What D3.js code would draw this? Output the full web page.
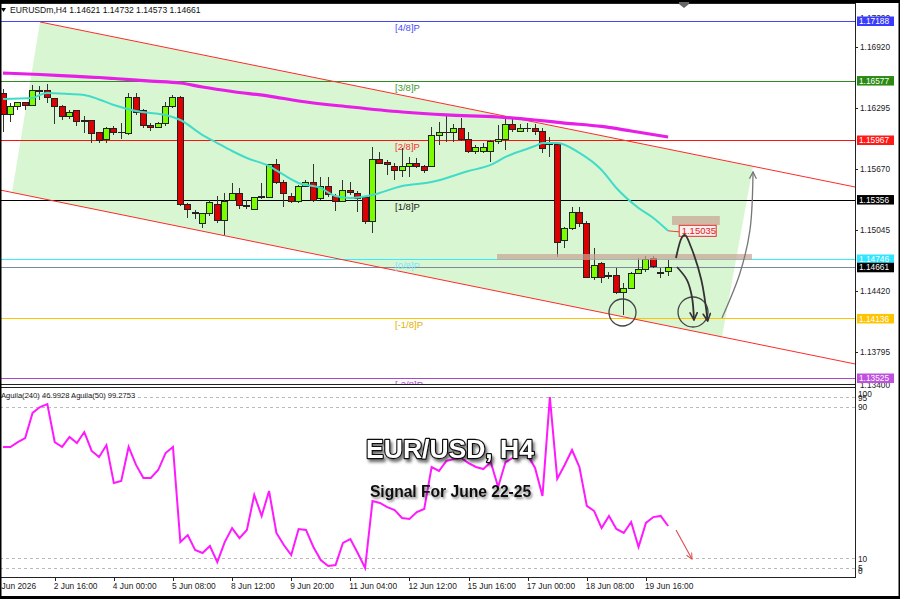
<!DOCTYPE html>
<html><head><meta charset="utf-8">
<script src="https://cdn.jsdelivr.net/npm/d3@7"></script>
<style>
html,body{margin:0;padding:0;background:#fff;}
svg{display:block;font-family:"Liberation Sans",Arial,sans-serif;}
</style></head><body>
<svg id="c" width="900" height="599"></svg>
<script>
// ---------------- DATA ----------------
const opens = [1.16449,1.16224,1.16306,1.16347,1.16326,1.16465,1.16480,1.16388,1.16306,1.16203,
1.16265,1.16152,1.16162,1.16039,1.15977,1.16080,1.16049,1.16029,1.16398,1.16265,
1.16111,1.16100,1.16141,1.16306,1.16398,1.15310,1.15228,1.15115,1.15208,1.15310,
1.15146,1.15351,1.15423,1.15300,1.15259,1.15377,1.15382,1.15711,1.15536,1.15392,
1.15331,1.15495,1.15526,1.15362,1.15485,1.15392,1.15341,1.15444,1.15423,1.15372,
1.15126,1.15772,1.15741,1.15700,1.15649,1.15700,1.15721,1.15700,1.15700,1.16018,
1.16039,1.16049,1.16080,1.15977,1.15844,1.15844,1.15844,1.15947,1.15977,1.16131,
1.16059,1.16090,1.16090,1.16059,1.15916,1.15916,1.14931,1.15054,1.15218,1.15115,
1.14561,1.14695,1.14572,1.14572,1.14407,1.14448,1.14602,1.14643,1.14756,1.14608,1.14621];
const highs = [1.16490,1.16347,1.16357,1.16357,1.16531,1.16521,1.16542,1.16398,1.16326,1.16275,
1.16275,1.16213,1.16172,1.16049,1.16100,1.16111,1.16141,1.16449,1.16449,1.16285,
1.16141,1.16152,1.16357,1.16429,1.16418,1.15321,1.15249,1.15218,1.15351,1.15392,
1.15423,1.15526,1.15475,1.15351,1.15382,1.15526,1.15721,1.15772,1.15557,1.15423,
1.15505,1.15557,1.15721,1.15587,1.15587,1.15413,1.15557,1.15536,1.15444,1.15392,
1.15895,1.15844,1.15762,1.15731,1.15885,1.15793,1.15782,1.15711,1.16100,1.16152,
1.16213,1.16131,1.16193,1.16049,1.15916,1.15936,1.15967,1.16121,1.16193,1.16193,
1.16131,1.16141,1.16131,1.16090,1.15998,1.15947,1.15074,1.15280,1.15280,1.15136,
1.14859,1.14715,1.14613,1.14654,1.14500,1.14613,1.14756,1.14777,1.14777,1.14654,1.14732];
const lows = [1.16049,1.16152,1.16275,1.16275,1.16316,1.16377,1.16347,1.16131,1.16172,1.16182,
1.16111,1.16039,1.15936,1.15936,1.15936,1.16018,1.15977,1.16018,1.16224,1.16090,
1.16059,1.16090,1.16111,1.16295,1.15290,1.15167,1.15156,1.15064,1.15187,1.15115,
1.14992,1.15341,1.15259,1.15259,1.15249,1.15362,1.15372,1.15516,1.15280,1.15321,
1.15321,1.15485,1.15331,1.15351,1.15382,1.15238,1.15331,1.15403,1.15228,1.15105,
1.15013,1.15721,1.15608,1.15557,1.15587,1.15587,1.15680,1.15628,1.15690,1.15916,
1.15947,1.15947,1.15957,1.15834,1.15823,1.15834,1.15741,1.15926,1.15864,1.16049,
1.16049,1.16049,1.16018,1.15834,1.15793,1.14767,1.14859,1.15044,1.15074,1.14551,
1.14531,1.14500,1.14541,1.14387,1.14171,1.14438,1.14592,1.14613,1.14654,1.14551,1.14573];
const closes = [1.16224,1.16306,1.16347,1.16326,1.16470,1.16470,1.16398,1.16306,1.16203,1.16254,
1.16152,1.16162,1.16029,1.15957,1.16080,1.16049,1.16039,1.16398,1.16254,1.16111,
1.16100,1.16141,1.16306,1.16398,1.15310,1.15249,1.15208,1.15208,1.15321,1.15146,
1.15341,1.15423,1.15290,1.15280,1.15372,1.15387,1.15711,1.15536,1.15413,1.15331,
1.15495,1.15526,1.15351,1.15485,1.15403,1.15331,1.15444,1.15433,1.15362,1.15126,
1.15772,1.15731,1.15711,1.15649,1.15690,1.15721,1.15690,1.15659,1.16018,1.16039,
1.16049,1.16080,1.15977,1.15844,1.15885,1.15885,1.15947,1.15977,1.16131,1.16070,
1.16090,1.16085,1.16059,1.15875,1.15926,1.14920,1.15064,1.15218,1.15115,1.14561,
1.14684,1.14561,1.14567,1.14407,1.14448,1.14602,1.14643,1.14746,1.14674,1.14602,1.14661];

// moving averages read at bar indexes: [barIndex, price]
const maSlow = [[0,1.16654],[5,1.16639],[10,1.16619],[13,1.16608],[15,1.16598],[20,1.16572],[24,1.16552],
[27,1.16511],[31,1.16465],[36,1.16418],[40,1.16367],[47,1.16306],[54,1.16254],[60,1.16224],[67,1.16203],
[72,1.16172],[76,1.16141],[81,1.16106],[85,1.16059],[90,1.15998]];
const maFast = [[0,1.16388],[4,1.16398],[5,1.16429],[6,1.16449],[9,1.16439],[11,1.16429],[13,1.16383],
[15,1.16326],[18,1.16265],[20,1.16244],[22,1.16224],[24,1.16172],[27,1.16018],[29,1.15936],[31,1.15854],
[33,1.15782],[36,1.15700],[38,1.15608],[40,1.15526],[43,1.15474],[45,1.15392],[47,1.15372],[50,1.15403],
[54,1.15495],[58,1.15536],[63,1.15649],[66,1.15711],[68,1.15793],[72,1.15905],[73,1.15936],[75,1.15936],
[78,1.15834],[81,1.15659],[83,1.15474],[86,1.15269],[88,1.15167],[90,1.15035]];

// oscillator (Aguila) per bar
const aguila = [68.8,68.8,71.4,73.5,86.8,89.9,91.5,71.4,68.8,74.1,
70.9,76.7,66.7,63.5,69.8,49.7,50.8,68.8,59.3,52.4,
52.4,56.6,65.6,68.8,18.5,22.2,14.3,12.7,16.4,7.9,
18.5,25.9,20.6,24.9,43.4,32.3,45.5,23.3,16.9,11.6,
25.4,24.9,15.9,9.0,5.8,6.3,18.0,20.1,12.7,4.8,
40.2,39.2,37.0,35.4,31.2,30.7,34.4,36.0,58.2,56.1,
61.4,62.4,63.0,60.3,58.2,57.1,60.8,47.6,60.8,63.0,
64.6,64.6,57.7,42.9,95.2,51.9,59.3,67.2,58.2,37.6,
34.9,25.9,32.3,25.4,23.3,29.1,15.9,28.6,31.7,32.3,27.0];
const aguilaLevels = [95,90,10,5];
const aguilaAxisLabels = [100,95,90,10,5,0];

// Murrey levels
const fibNames = ["[4/8]P","[3/8]P","[2/8]P","[1/8]P","[0/8]P","[-1/8]P","[-2/8]P"];
const fibPrices = [1.17188,1.16577,1.15967,1.15356,1.14746,1.14136,1.13525];
const bidPrice = 1.14661;

const priceTicks = [1.16920,1.16295,1.15670,1.15045,1.14420,1.13795];
const priceEnds = [1.17300,1.13400];

const xTickIdx = [-1,7,15,23,31,39,47,55,63,71,79,87];
const xTickLabels = ["1 Jun 2026","2 Jun 16:00","4 Jun 00:00","5 Jun 08:00","8 Jun 12:00","9 Jun 20:00",
"11 Jun 04:00","12 Jun 12:00","15 Jun 16:00","17 Jun 00:00","18 Jun 08:00","19 Jun 16:00"];

// channel and annotations in data space [barIndex, price]
const channelUpper = [[5.007,1.17178],[115.29,1.15485]];
const channelLower = [[-0.406,1.15454],[115.29,1.13669]];
const channelShade = [[5.007,1.17178],[101.49,1.15696],[97.29,1.13946],[1.218,1.15428]];
const zoneBoxes = [{i0:90.53,i1:97.0,p0:1.15095,p1:1.15187},{i0:66.85,i1:101.35,p0:1.14736,p1:1.14797}];
const targetLabel = {i:91.5,p:1.15035,text:"1.15035"};
const circles = [[83.83,1.14197],[93.37,1.14202]];
const arrowA = [[91.07,1.14756],[91.9,1.14972],[92.3,1.14992],[93.1,1.14869],[94.5,1.14530],[95.35,1.14110]];
const arrowB = [[91.2,1.14664],[92.56,1.14530],[93.23,1.14356],[93.5,1.14120]];
const arrowC = [[97.29,1.14141],[99.73,1.14602],[101.08,1.15045],[101.49,1.15640]];
const arrowOsc = [[91.07,24.9],[93.23,9.5]];

const titleText = "EURUSDm,H4  1.14621 1.14732 1.14573 1.14661";
const oscTitle = "Aguila(240) 46.9928  Aguila(50) 99.2753";

// ---------------- DRAW ----------------
const svg = d3.select("#c");
const defs = svg.append("defs");
const R = 855, mainTop = 3, mainBot = 384, indTop = 387, indBot = 577;

const x = d3.scaleLinear().domain([0, 90]).range([3, 3 + 90*7.39]);
const y = d3.scaleLinear().domain([1.13525, 1.17188]).range([378, 21]);
const yi = d3.scaleLinear().domain([0, 100]).range([indBot, 388]);

defs.append("clipPath").attr("id","clipMain").append("rect").attr("x",0).attr("y",mainTop).attr("width",R).attr("height",mainBot-mainTop);
defs.append("clipPath").attr("id","clipInd").append("rect").attr("x",0).attr("y",indTop).attr("width",R).attr("height",indBot-indTop);
function marker(id,color,size,sw){
  defs.append("marker").attr("id",id).attr("viewBox","0 0 10 10").attr("refX",9).attr("refY",5)
   .attr("markerWidth",size).attr("markerHeight",size).attr("orient","auto").attr("markerUnits","userSpaceOnUse")
   .append("path").attr("d","M1,1 L9,5 L1,9").attr("fill","none").attr("stroke",color).attr("stroke-width",sw).attr("stroke-linecap","round");
}
marker("mDark","#333",9,1.8); marker("mGray","#777",8,1.6); marker("mRed","#e04848",7,1.4);
const f1 = defs.append("filter").attr("id","sh1").attr("x","-20%").attr("y","-40%").attr("width","140%").attr("height","190%");
f1.append("feDropShadow").attr("dx",2).attr("dy",3).attr("stdDeviation",1.6).attr("flood-color","#000").attr("flood-opacity",0.55);
const f2 = defs.append("filter").attr("id","sh2").attr("x","-20%").attr("y","-40%").attr("width","140%").attr("height","190%");
f2.append("feDropShadow").attr("dx",1.5).attr("dy",2).attr("stdDeviation",1.3).attr("flood-color","#000").attr("flood-opacity",0.45);

svg.append("rect").attr("width",900).attr("height",599).attr("fill","#fff");

const pt = d => [x(d[0]), y(d[1])];
const main = svg.append("g").attr("clip-path","url(#clipMain)");

// shade
main.append("polygon").attr("points", channelShade.map(d=>pt(d).join(",")).join(" ")).attr("fill","#d9f6d3");

// horizontal levels
const fibColors = ["#4444ff","#2f8a22","#ff1010","#000000","#33eeff","#ffc400","#b045d0"];
const fibTextColors = ["#4a4aff","#3a9a2a","#ff3030","#222222","#7fe6ff","#e0b000","#b045d0"];
main.selectAll("line.fib").data(fibPrices).join("line")
  .attr("x1",0).attr("x2",R).attr("y1",d=>Math.round(y(d))+0.5).attr("y2",d=>Math.round(y(d))+0.5)
  .attr("stroke",(d,i)=>fibColors[i]).attr("stroke-width",1);
main.append("line").attr("x1",0).attr("x2",R).attr("y1",Math.round(y(bidPrice))+0.5).attr("y2",Math.round(y(bidPrice))+0.5)
  .attr("stroke","#7a8a9a").attr("stroke-width",1);

// channel lines
[channelUpper, channelLower].forEach(c=>{
  main.append("line").attr("x1",pt(c[0])[0]).attr("y1",pt(c[0])[1]).attr("x2",pt(c[1])[0]).attr("y2",pt(c[1])[1])
    .attr("stroke","#ff2a2a").attr("stroke-width",1);
});

// fib labels
main.selectAll("text.fib").data(fibPrices).join("text")
  .attr("x",x(53.05)).attr("y",d=>y(d)+10).attr("font-size",9.5).attr("fill",(d,i)=>fibTextColors[i])
  .text((d,i)=>fibNames[i]);

// candles
const bars = d3.range(opens.length).map(i=>({i,o:opens[i],h:highs[i],l:lows[i],c:closes[i]}));
const cg = main.append("g").attr("shape-rendering","crispEdges");
cg.selectAll("line.w").data(bars).join("line")
  .attr("x1",d=>Math.floor(x(d.i))+0.5).attr("x2",d=>Math.floor(x(d.i))+0.5)
  .attr("y1",d=>y(d.h)).attr("y2",d=>y(d.l)).attr("stroke","#333").attr("stroke-width",1);
cg.selectAll("rect.b").data(bars).join("rect")
  .attr("x",d=>Math.floor(x(d.i))-2.5).attr("width",6)
  .attr("y",d=>y(Math.max(d.o,d.c))).attr("height",d=>Math.max(0.01,Math.abs(y(d.o)-y(d.c))))
  .attr("fill",d=>d.c>=d.o?"#7cfc00":"#dd0000").attr("stroke","#222").attr("stroke-width",1);

// moving averages
const lineP = d3.line().x(d=>x(d[0])).y(d=>y(d[1])).curve(d3.curveMonotoneX);
main.append("path").attr("d",lineP(maFast)).attr("fill","none").attr("stroke","#40dcc8").attr("stroke-width",2);
main.append("path").attr("d",lineP(maSlow)).attr("fill","none").attr("stroke","#e61ee6").attr("stroke-width",3.2);

// zones
main.selectAll("rect.zone").data(zoneBoxes).join("rect")
  .attr("x",d=>x(d.i0)).attr("width",d=>x(d.i1)-x(d.i0)).attr("y",d=>y(d.p1)).attr("height",d=>y(d.p0)-y(d.p1))
  .attr("fill","#c9a394").attr("opacity",0.72);

// target label
const tx = x(targetLabel.i), ty = y(targetLabel.p);
main.append("line").attr("x1",x(90)).attr("y1",y(maFast[maFast.length-1][1])).attr("x2",tx).attr("y2",ty+1).attr("stroke","#e04040").attr("stroke-width",1);
main.append("rect").attr("x",tx).attr("y",ty-5.5).attr("width",37).attr("height",11).attr("fill","#fbeeee").attr("stroke","#e03030").attr("stroke-width",1);
main.append("text").attr("x",tx+2.5).attr("y",ty+3.6).attr("font-size",9.5).attr("fill","#e02020").text(targetLabel.text);

// annotations
main.selectAll("circle.ann").data(circles).join("circle")
  .attr("cx",d=>pt(d)[0]).attr("cy",d=>pt(d)[1]).attr("r",(d,i)=>i?15:13.5)
  .attr("fill","none").attr("stroke","#444").attr("stroke-width",1.3);
const lineC = d3.line().x(d=>x(d[0])).y(d=>y(d[1])).curve(d3.curveCatmullRom);
main.append("path").attr("d",lineC(arrowA)).attr("fill","none").attr("stroke","#333").attr("stroke-width",1.8).attr("marker-end","url(#mDark)");
main.append("path").attr("d",lineC(arrowB)).attr("fill","none").attr("stroke","#333").attr("stroke-width",1.8).attr("marker-end","url(#mDark)");
main.append("path").attr("d",lineC(arrowC)).attr("fill","none").attr("stroke","#777").attr("stroke-width",1.3).attr("marker-end","url(#mGray)");

// title
svg.append("text").attr("x",10).attr("y",13).attr("font-size",8.6).attr("fill","#111").text(titleText);
svg.append("polygon").attr("points","1,8 6,8 3.5,12").attr("fill","#000");

// -------- indicator panel --------
const ind = svg.append("g").attr("clip-path","url(#clipInd)");
ind.selectAll("line.lvl").data(aguilaLevels).join("line")
  .attr("x1",0).attr("x2",R).attr("y1",d=>Math.round(yi(d))+0.5).attr("y2",d=>Math.round(yi(d))+0.5)
  .attr("stroke","#bbb").attr("stroke-dasharray","3,3").attr("stroke-width",1);
const lineI = d3.line().x((d,i)=>x(i)).y(d=>yi(d));
ind.append("path").attr("d",lineI(aguila)).attr("fill","none").attr("stroke","#ff19ff").attr("stroke-width",2);
ind.append("line").attr("x1",x(arrowOsc[0][0])).attr("y1",yi(arrowOsc[0][1])).attr("x2",x(arrowOsc[1][0])).attr("y2",yi(arrowOsc[1][1]))
  .attr("stroke","#e04848").attr("stroke-width",1.1).attr("marker-end","url(#mRed)");
svg.append("text").attr("x",1).attr("y",398).attr("font-size",7.6).attr("fill","#222").text(oscTitle);

// big captions
svg.append("text").attr("x",450).attr("y",458).attr("text-anchor","middle").attr("font-size",26.5).attr("font-weight","bold")
  .attr("fill","#fff").attr("stroke","#111").attr("stroke-width",2.4).attr("paint-order","stroke").attr("stroke-linejoin","round")
  .attr("filter","url(#sh1)").text("EUR/USD, H4");
svg.append("text").attr("x",450.5).attr("y",497).attr("text-anchor","middle").attr("font-size",15.6).attr("font-weight","bold")
  .attr("fill","#111").attr("filter","url(#sh2)").text("Signal For June 22-25");

// -------- frames & axes --------
svg.append("line").attr("x1",0).attr("x2",R).attr("y1",mainTop+0.5).attr("y2",mainTop+0.5).attr("stroke","#222");
svg.append("line").attr("x1",0).attr("x2",R).attr("y1",mainBot+0.5).attr("y2",mainBot+0.5).attr("stroke","#222");
svg.append("line").attr("x1",0).attr("x2",R).attr("y1",indTop+0.5).attr("y2",indTop+0.5).attr("stroke","#222");
svg.append("line").attr("x1",0).attr("x2",R).attr("y1",indBot+0.5).attr("y2",indBot+0.5).attr("stroke","#222");
svg.append("line").attr("x1",R+0.5).attr("x2",R+0.5).attr("y1",mainTop).attr("y2",indBot+1).attr("stroke","#222");

// price axis
const ax = svg.append("g").attr("font-size",8.3).attr("fill","#222");
ax.selectAll("line.t").data(priceTicks).join("line")
  .attr("x1",R).attr("x2",R+3).attr("y1",d=>Math.round(y(d))+0.5).attr("y2",d=>Math.round(y(d))+0.5).attr("stroke","#222");
ax.selectAll("text.t").data(priceTicks).join("text").attr("x",R+5).attr("y",d=>y(d)+3).text(d=>d.toFixed(5));
ax.append("text").attr("x",R+5).attr("y",21).text(priceEnds[0].toFixed(5));
ax.append("text").attr("x",R+5).attr("y",388).text(priceEnds[1].toFixed(5));

const boxPrices = fibPrices.concat([bidPrice]);
const boxColors = ["#3b3bff","#2a8a12","#ff1a1a","#000000","#2ee6ff","#ffc400","#c050e0","#000000"];
const bx = svg.append("g").attr("font-size",8.3);
bx.selectAll("rect").data(boxPrices).join("rect")
  .attr("x",R+2).attr("width",37).attr("y",d=>y(d)-4.5).attr("height",9.5).attr("fill",(d,i)=>boxColors[i]);
bx.selectAll("text").data(boxPrices).join("text")
  .attr("x",R+4).attr("y",d=>y(d)+3.2).attr("fill","#fff").text(d=>d.toFixed(5));

// indicator axis labels
svg.selectAll("text.il").data(aguilaAxisLabels).join("text").attr("font-size",8.3).attr("fill","#222")
  .attr("x",R+3).attr("y",d=>Math.min(574, Math.max(397, yi(d)+3.5))).text(d=>d);

// time axis
const tg = svg.append("g").attr("font-size",8.4).attr("fill","#222");
tg.selectAll("line").data(xTickIdx).join("line")
  .attr("x1",d=>Math.round(x(d))+0.5).attr("x2",d=>Math.round(x(d))+0.5).attr("y1",indBot).attr("y2",indBot+4).attr("stroke","#222");
tg.selectAll("text").data(xTickIdx).join("text").attr("x",d=>x(d)-1).attr("y",589).text((d,i)=>xTickLabels[i]);

// outer frame
svg.append("rect").attr("x",0).attr("y",0).attr("width",900).attr("height",3).attr("fill","#000");
svg.append("rect").attr("x",0).attr("y",596).attr("width",900).attr("height",3).attr("fill","#000");
svg.append("rect").attr("x",0).attr("y",0).attr("width",1.5).attr("height",599).attr("fill","#000");
svg.append("rect").attr("x",898.5).attr("y",0).attr("width",1.5).attr("height",599).attr("fill","#000");
svg.append("polygon").attr("points","679,2 689,2 689,4 684,8 679,4").attr("fill","#666");
</script>
</body></html>
